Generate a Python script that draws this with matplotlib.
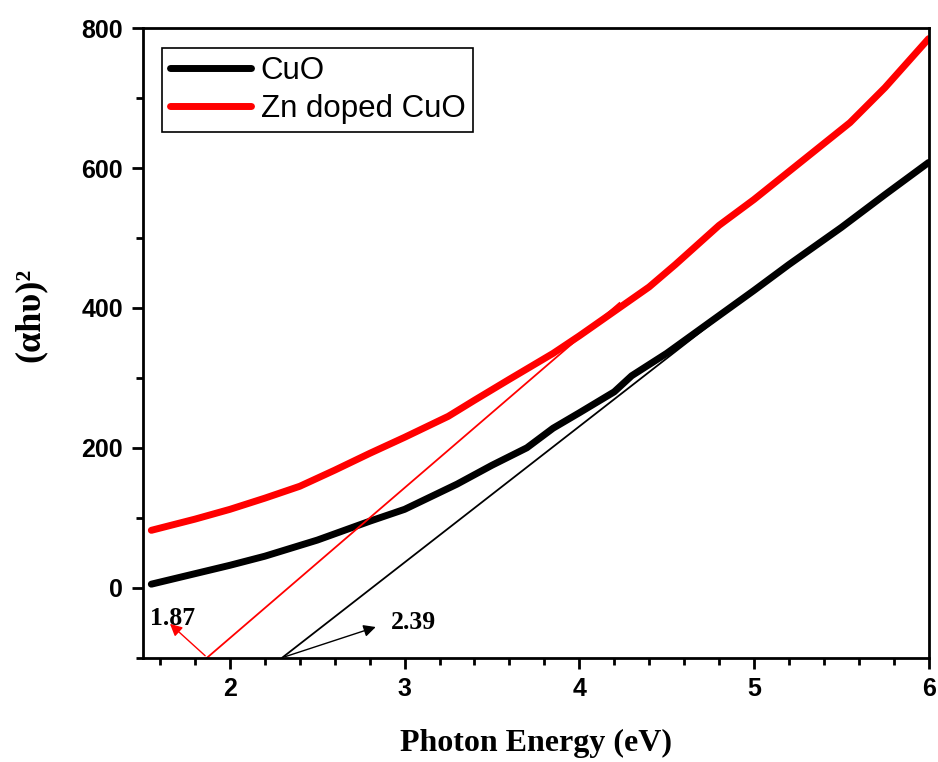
import matplotlib
matplotlib.use("Agg")
import matplotlib.pyplot as plt
from matplotlib.ticker import MultipleLocator

# (alpha h nu)^2 vs photon energy
cuo_x = [1.55, 1.8, 2.0, 2.2, 2.5, 2.8, 3.0, 3.1, 3.3, 3.5, 3.7, 3.85, 4.0,
         4.2, 4.3, 4.5, 4.75, 5.0, 5.2, 5.5, 5.75, 6.0]
cuo_y = [5, 20, 32, 45, 68, 95, 112, 124, 148, 175, 200, 228, 250,
         280, 303, 335, 380, 425, 462, 515, 562, 608]

zn_x = [1.55, 1.8, 2.0, 2.2, 2.4, 2.6, 2.8, 3.0, 3.25, 3.4, 3.6, 3.85, 4.0,
        4.2, 4.4, 4.55, 4.8, 5.0, 5.25, 5.55, 5.75, 6.0]
zn_y = [82, 98, 112, 128, 145, 168, 192, 215, 245, 268, 298, 335, 360,
        395, 430, 462, 518, 555, 605, 665, 715, 785]

# linear extrapolations to the energy axis
zn_fit_x = [1.87, 4.23]
zn_fit_y = [-100, 407]
cuo_fit_x = [2.30, 5.0]
cuo_fit_y = [-100, 425]

serif = "Liberation Serif"
sans = "Liberation Sans"

fig, ax = plt.subplots(figsize=(9.38, 7.62), dpi=100)
fig.subplots_adjust(left=0.152, right=0.990, top=0.963, bottom=0.137)

ax.plot(cuo_x, cuo_y, color="black", lw=5, solid_capstyle="round", label="CuO")
ax.plot(zn_x, zn_y, color="red", lw=5, solid_capstyle="round", label="Zn doped CuO")
ax.plot(zn_fit_x, zn_fit_y, color="red", lw=1.3)
ax.plot(cuo_fit_x, cuo_fit_y, color="black", lw=1.3)

ax.annotate("", xy=(1.645, -49), xytext=(1.87, -100),
            arrowprops=dict(arrowstyle="-|>", color="red", lw=1, mutation_scale=18))
ax.annotate("", xy=(2.85, -55), xytext=(2.30, -100),
            arrowprops=dict(arrowstyle="-|>", color="black", lw=1, mutation_scale=18))
ax.text(1.54, -44, "1.87", fontsize=18.5, fontweight="bold", family=serif,
        ha="left", va="center")
ax.text(2.92, -50, "2.39", fontsize=18.5, fontweight="bold", family=serif,
        ha="left", va="center")

ax.set_xlim(1.5, 6)
ax.set_ylim(-100, 800)
ax.xaxis.set_major_locator(MultipleLocator(1))
ax.xaxis.set_minor_locator(MultipleLocator(0.2))
ax.yaxis.set_major_locator(MultipleLocator(200))
ax.yaxis.set_minor_locator(MultipleLocator(100))
ax.tick_params(which="major", direction="out", length=8, width=2, pad=6)
ax.tick_params(which="minor", direction="out", length=5, width=2)
for lbl in ax.get_xticklabels() + ax.get_yticklabels():
    lbl.set_fontfamily(sans)
    lbl.set_fontweight("bold")
    lbl.set_fontsize(18)
for sp in ax.spines.values():
    sp.set_linewidth(2)

ax.set_xlabel("Photon Energy (eV)", fontsize=23, fontweight="bold",
              family=serif, labelpad=20)
ax.set_ylabel("(αhυ)²", fontsize=26, fontweight="bold", family=serif)
ax.yaxis.set_label_coords(-0.122, 0.545)

leg = ax.legend(loc="upper left", bbox_to_anchor=(0.025, 0.968), borderaxespad=0,
                fancybox=False, framealpha=1, edgecolor="black",
                handlelength=2.6, handletextpad=0.3, borderpad=0.25,
                labelspacing=0.25, prop={"family": sans, "size": 22.5})
leg.get_frame().set_linewidth(1.2)

fig.savefig("out.png", dpi=100)
